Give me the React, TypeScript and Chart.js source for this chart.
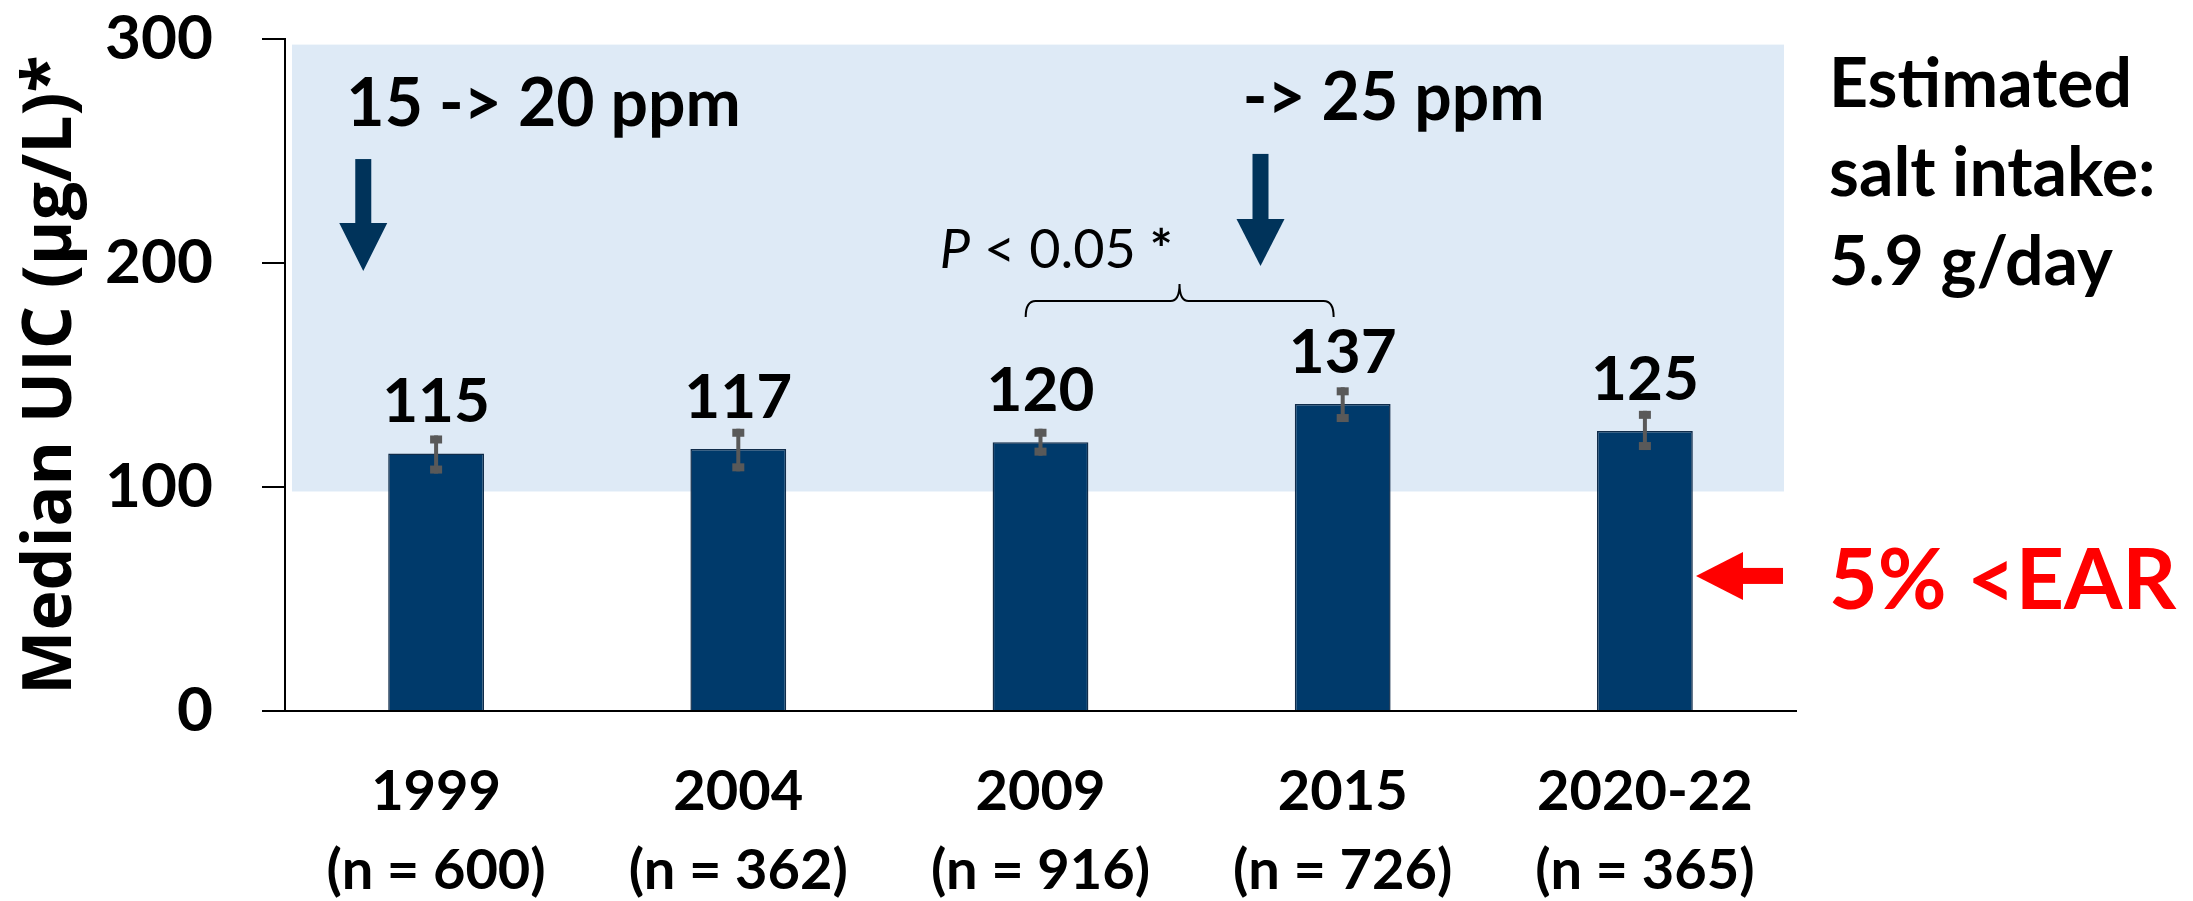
import React, { useEffect, useRef } from 'react';
import { Chart, registerables } from 'chart.js';

Chart.register(...registerables);

// ---- data ----
const categories: string[][] = [
  ['1999', '(n = 600)'],
  ['2004', '(n = 362)'],
  ['2009', '(n = 916)'],
  ['2015', '(n = 726)'],
  ['2020-22', '(n = 365)'],
];
const medianUIC = [115, 117, 120, 137, 125];
const errLow = [106, 107, 114, 129, 116.5];
const errHigh = [123, 126, 126, 144.5, 134];
const yTickValues = [0, 100, 200, 300];
const adequateBand = [98, 297.5];
const fortificationNotes = ['15 -> 20 ppm', '-> 25 ppm'];
const saltLines = ['Estimated', 'salt intake:', '5.9 g/day'];
const earText = '5% <EAR';
const yTitle = 'Median UIC (µg/L)*';

const NAVY = '#003a6b';
const ARROW = '#00335a';
const ERR = '#595959';
const BAND = '#deeaf6';
const LATO = "Lato, 'Open Sans', sans-serif";

function downArrow(ctx: CanvasRenderingContext2D, cx: number, top: number, headTop: number, tip: number) {
  ctx.fillStyle = ARROW;
  ctx.fillRect(cx - 8, top, 16, headTop - top + 1);
  ctx.beginPath();
  ctx.moveTo(cx - 24, headTop);
  ctx.lineTo(cx + 24, headTop);
  ctx.lineTo(cx, tip);
  ctx.closePath();
  ctx.fill();
}

const annotationPlugin = {
  id: 'annotations',
  beforeDatasetsDraw(chart: any) {
    const { ctx, chartArea, scales } = chart;
    const y = scales.y;
    ctx.save();
    const top = y.getPixelForValue(adequateBand[1]);
    const bottom = y.getPixelForValue(adequateBand[0]);
    ctx.fillStyle = BAND;
    const left = chartArea.left + 7;
    const right = chartArea.right - 12;
    ctx.fillRect(left, top, right - left, bottom - top);
    ctx.restore();
  },
  afterDatasetsDraw(chart: any) {
    const { ctx, chartArea, scales } = chart;
    const x = scales.x;
    const y = scales.y;
    const px = (v: number) => x.getPixelForValue(v);
    const py = (v: number) => y.getPixelForValue(v);
    ctx.save();

    // error bars
    medianUIC.forEach((_, i) => {
      const cx = px(i);
      const t = py(errHigh[i]);
      const b = py(errLow[i]);
      ctx.strokeStyle = ERR;
      ctx.lineWidth = 4;
      ctx.beginPath();
      ctx.moveTo(cx, t);
      ctx.lineTo(cx, b);
      ctx.stroke();
      ctx.fillStyle = ERR;
      ctx.fillRect(cx - 6, t, 12, 8);
      ctx.fillRect(cx - 6, b - 8, 12, 8);
    });

    // value labels
    const meta = chart.getDatasetMeta(0);
    ctx.fillStyle = '#000';
    ctx.font = `bold 62px ${LATO}`;
    ctx.textAlign = 'center';
    ctx.textBaseline = 'alphabetic';
    meta.data.forEach((bar: any, i: number) => {
      ctx.fillText(String(medianUIC[i]), bar.x, bar.y - 31);
    });

    // fortification notes and arrows
    ctx.textAlign = 'left';
    ctx.font = `bold 66px ${LATO}`;
    ctx.fillStyle = '#000';
    ctx.fillText(fortificationNotes[0], px(-0.297), py(261.2));
    ctx.fillText(fortificationNotes[1], px(2.669), py(263.8));
    downArrow(ctx, px(-0.241), py(246.4), py(217.9), py(196.4));
    downArrow(ctx, px(2.728), py(248.7), py(219.6), py(198.7));

    // P < 0.05 *
    let tx = px(1.667);
    const ty = py(197.8);
    ctx.fillStyle = '#000';
    ctx.font = `italic 54px ${LATO}`;
    ctx.fillText('P', tx, ty);
    tx += ctx.measureText('P').width;
    ctx.font = `54px ${LATO}`;
    ctx.fillText(' < 0.05 ', tx, ty);
    tx += ctx.measureText(' < 0.05 ').width;
    ctx.font = `bold 54px ${LATO}`;
    ctx.fillText('*', tx, ty);

    // bracket
    const bl = px(1.951);
    const br = px(2.97);
    const bm = px(2.46);
    const yl = py(183);
    const ye = py(175.9);
    const yp = py(190.6);
    ctx.strokeStyle = '#000';
    ctx.lineWidth = 2;
    ctx.beginPath();
    ctx.moveTo(bl, ye);
    ctx.quadraticCurveTo(bl, yl, bl + 10, yl);
    ctx.lineTo(bm - 9, yl);
    ctx.quadraticCurveTo(bm, yl, bm, yp);
    ctx.quadraticCurveTo(bm, yl, bm + 9, yl);
    ctx.lineTo(br - 10, yl);
    ctx.quadraticCurveTo(br, yl, br, ye);
    ctx.stroke();

    // salt intake text
    ctx.fillStyle = '#000';
    ctx.font = `bold 68px ${LATO}`;
    const sx = chartArea.right + 33;
    const sy = py(269.6);
    saltLines.forEach((line, i) => ctx.fillText(line, sx, sy + i * 89));

    // red arrow + EAR text
    const ay = py(60.3);
    const tip = chartArea.right - 100;
    const headBase = chartArea.right - 53;
    const tail = chartArea.right - 13;
    ctx.fillStyle = '#ff0000';
    ctx.fillRect(headBase - 1, ay - 8, tail - headBase + 1, 16);
    ctx.beginPath();
    ctx.moveTo(tip, ay);
    ctx.lineTo(headBase, ay - 24);
    ctx.lineTo(headBase, ay + 24);
    ctx.closePath();
    ctx.fill();
    ctx.font = `bold 84px ${LATO}`;
    ctx.fillText(earText, sx, py(45.5));

    ctx.restore();
  },
};

export default function App() {
  const canvasRef = useRef<HTMLCanvasElement | null>(null);

  useEffect(() => {
    const canvas = canvasRef.current;
    if (!canvas) return;
    const chart = new Chart(canvas, {
      type: 'bar',
      data: {
        labels: categories,
        datasets: [
          {
            data: medianUIC,
            backgroundColor: NAVY,
            borderColor: '#102c4a',
            borderWidth: 1.5,
            categoryPercentage: 1,
            barPercentage: 0.317,
          },
        ],
      },
      options: {
        responsive: false,
        animation: false,
        devicePixelRatio: 1,
        layout: { padding: { left: 0, top: 39, right: 397, bottom: 0 } },
        plugins: {
          legend: { display: false },
          title: { display: false },
          tooltip: { enabled: false },
        },
        scales: {
          x: {
            grid: { display: false, drawTicks: false },
            border: { display: true, color: '#000', width: 2 },
            ticks: {
              color: '#000',
              font: { family: LATO, weight: 'bold', size: 56, lineHeight: 1.41 },
              padding: 41,
              maxRotation: 0,
              autoSkip: false,
            },
            afterFit: (s: any) => {
              s.height = 190;
              s.paddingLeft = 0;
              s.paddingRight = 0;
            },
          },
          y: {
            min: 0,
            max: 300,
            afterBuildTicks: (s: any) => {
              s.ticks = yTickValues.map((v) => ({ value: v }));
            },
            ticks: {
              color: '#000',
              font: { family: LATO, weight: 'bold', size: 62 },
              padding: 49,
            },
            grid: {
              drawOnChartArea: false,
              drawTicks: true,
              tickLength: 23,
              color: '#000',
              lineWidth: 2,
            },
            border: { display: true, color: '#000', width: 2 },
            title: {
              display: true,
              text: yTitle,
              color: '#000',
              font: { family: "'Open Sans', sans-serif", weight: 'bold', size: 68 },
              padding: { top: 11, bottom: 0 },
            },
            afterFit: (s: any) => {
              s.width = 285;
              s.paddingTop = 0;
              s.paddingBottom = 0;
            },
          },
        },
      },
      plugins: [annotationPlugin],
    } as any);
    return () => chart.destroy();
  }, []);

  return (
    <div style={{ position: 'absolute', left: 0, top: 0, width: 2193, height: 901, background: '#fff' }}>
      <canvas ref={canvasRef} width={2193} height={901} style={{ display: 'block', width: 2193, height: 901 }} />
    </div>
  );
}
